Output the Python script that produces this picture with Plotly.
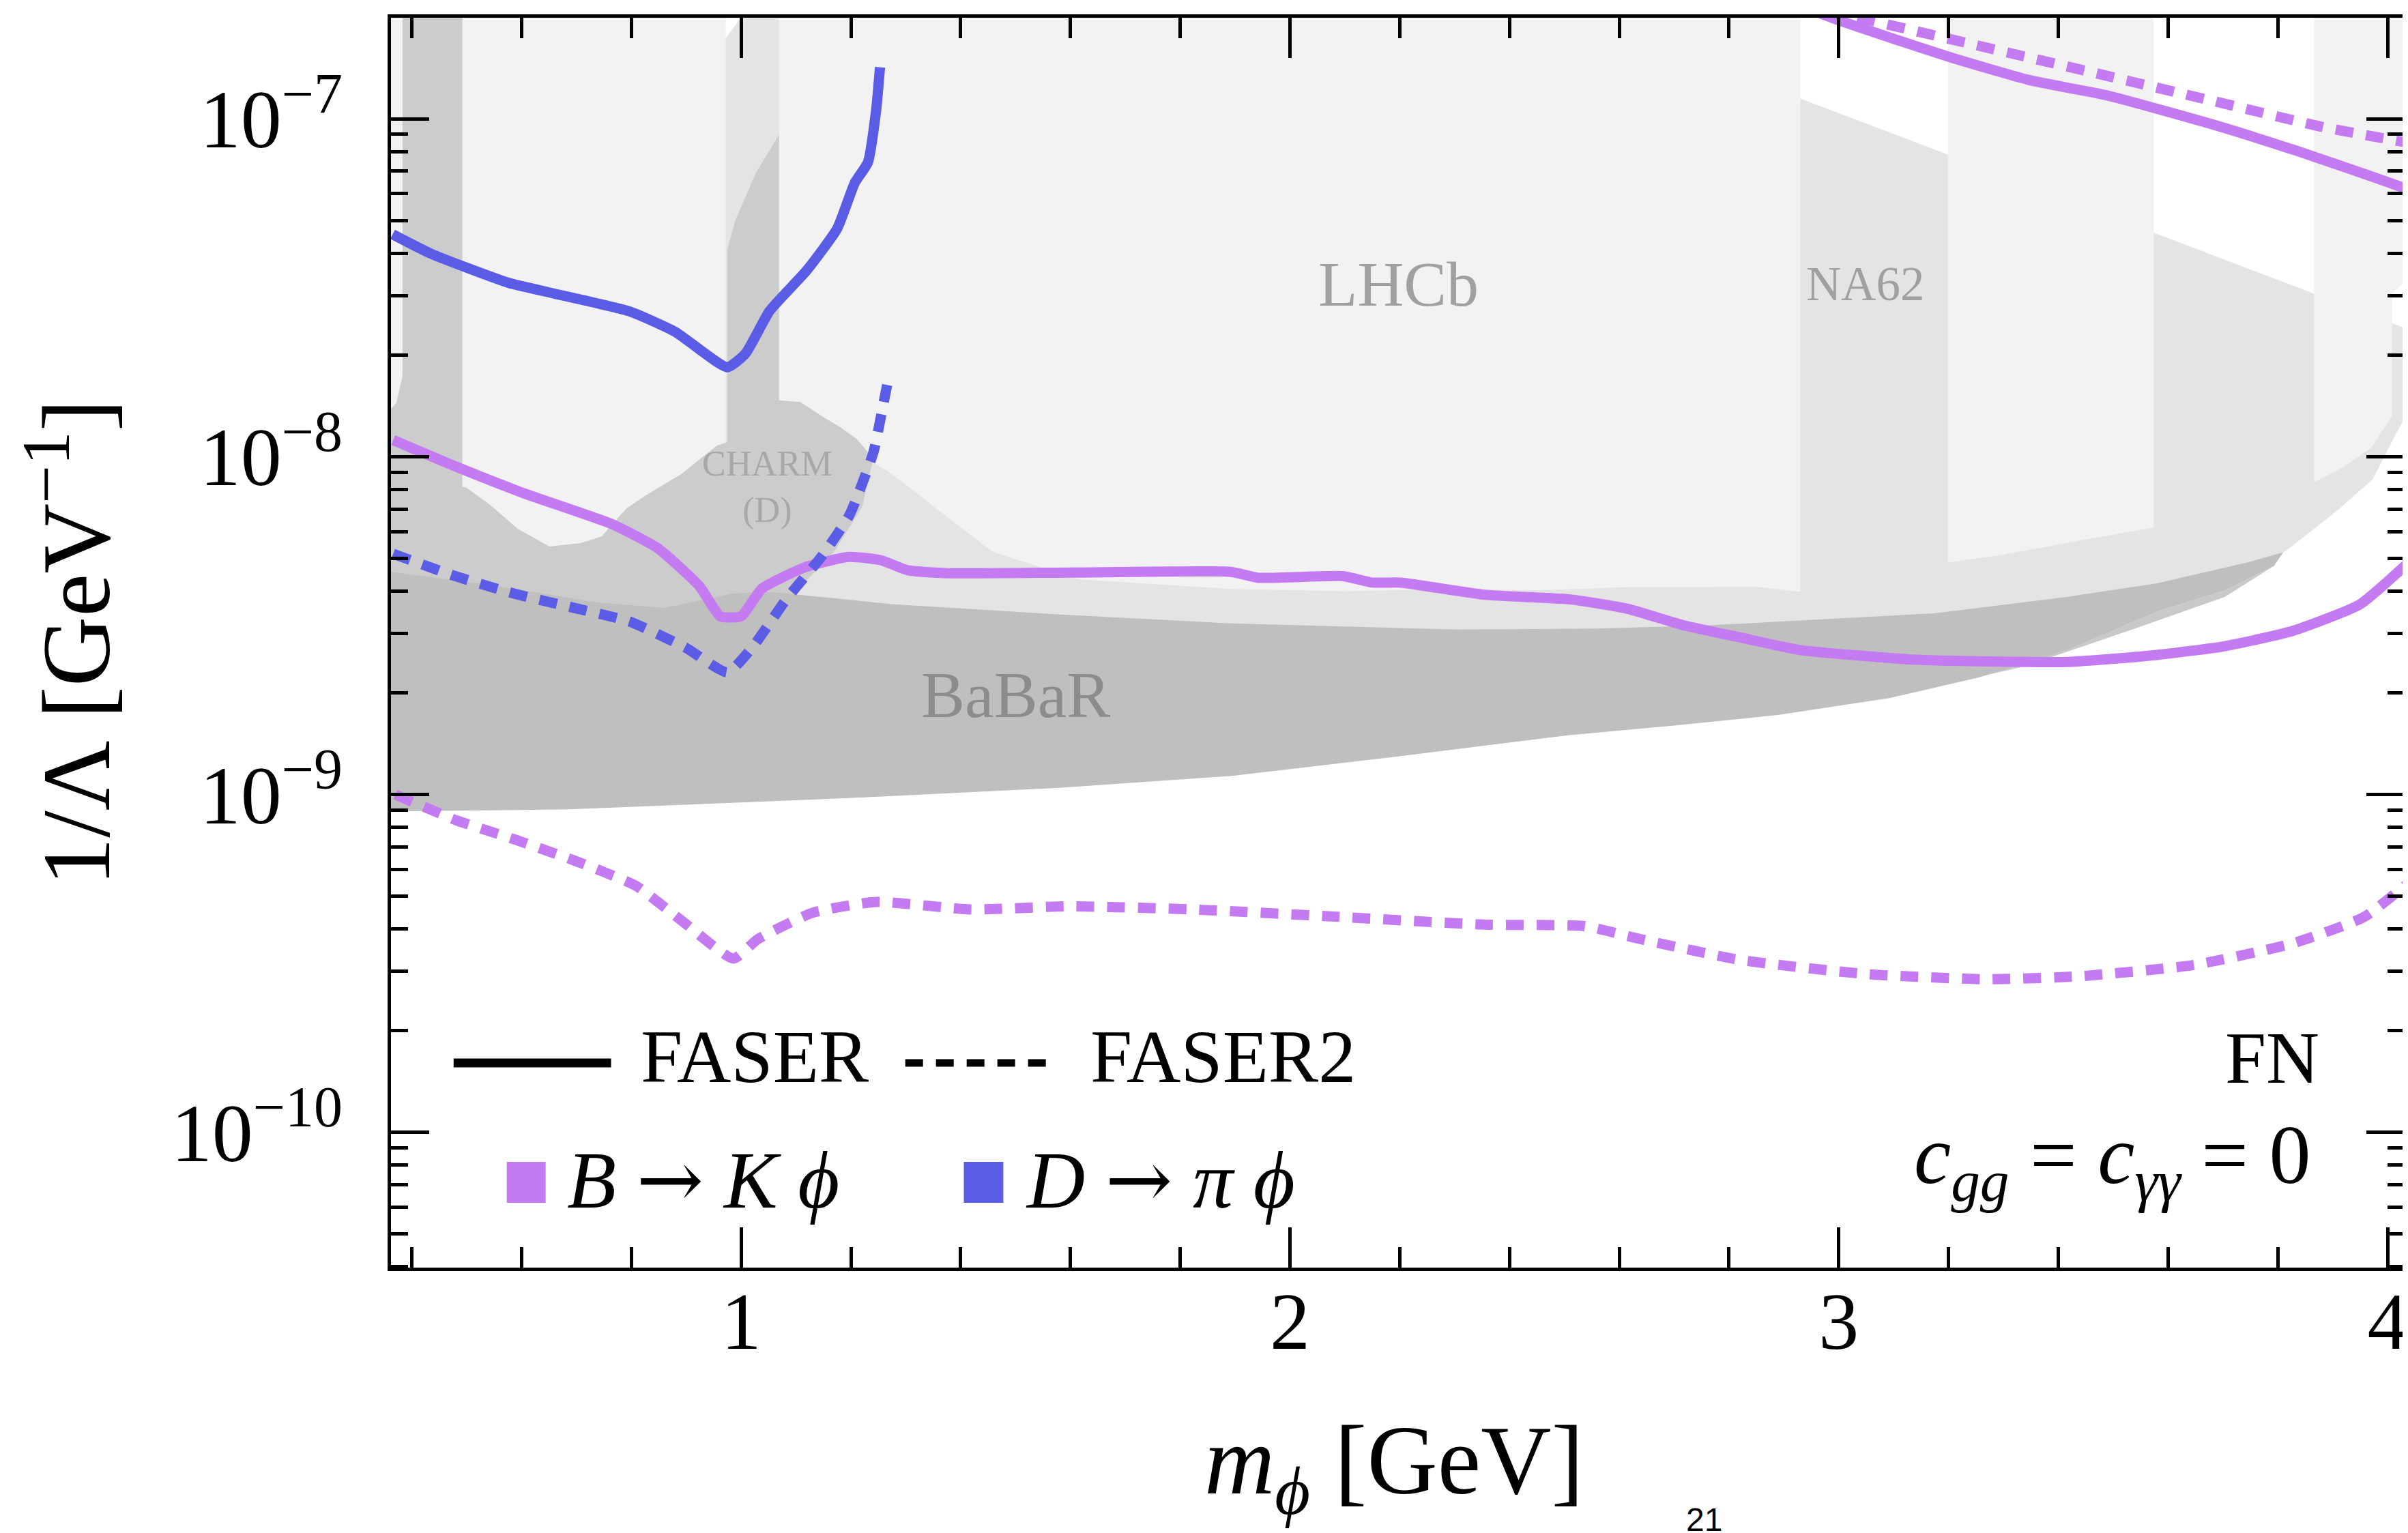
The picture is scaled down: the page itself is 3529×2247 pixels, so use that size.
import plotly.graph_objects as go

# ---------------- data ----------------
# m_phi [GeV] and 1/Lambda [GeV^-1]

# D -> pi phi, FASER (solid blue)
d_faser_m = [0.365, 0.436, 0.576, 0.659, 0.797, 0.880, 0.975, 1.008, 1.052, 1.119, 1.175, 1.207, 1.231, 1.246, 1.253]
d_faser_c = [4.55e-8, 3.98e-8, 3.27e-8, 3.04e-8, 2.69e-8, 2.34e-8, 1.84e-8, 2.02e-8, 2.70e-8, 3.55e-8, 4.73e-8, 6.46e-8, 7.43e-8, 1.06e-7, 1.42e-7]

# D -> pi phi, FASER2 (dashed blue)
d_faser2_m = [0.366, 0.479, 0.587, 0.695, 0.797, 0.899, 0.975, 1.020, 1.083, 1.146, 1.197, 1.241, 1.258, 1.266]
d_faser2_c = [5.16e-9, 4.43e-9, 3.93e-9, 3.57e-9, 3.25e-9, 2.72e-9, 2.30e-9, 2.72e-9, 3.80e-9, 5.05e-9, 6.70e-9, 1.03e-8, 1.40e-8, 1.63e-8]

# B -> K phi, FASER (solid purple), lower and upper branches
b_faser_low_m = [0.366, 0.480, 0.607, 0.765, 0.848, 0.924, 0.962, 1.000, 1.038, 1.114, 1.196, 1.254, 1.304, 1.376, 1.600,
                 1.892, 1.943, 2.097, 2.150, 2.202, 2.356, 2.511, 2.614, 2.717, 2.819, 2.928, 3.133, 3.418, 3.580,
                 3.704, 3.827, 3.949, 4.038]
b_faser_low_c = [1.12e-8, 9.35e-9, 7.76e-9, 6.31e-9, 5.36e-9, 4.14e-9, 3.37e-9, 3.37e-9, 4.07e-9, 4.69e-9, 5.05e-9, 4.94e-9,
                 4.61e-9, 4.52e-9, 4.54e-9, 4.56e-9, 4.38e-9, 4.43e-9, 4.24e-9, 4.24e-9, 3.90e-9, 3.78e-9, 3.55e-9,
                 3.17e-9, 2.92e-9, 2.68e-9, 2.51e-9, 2.47e-9, 2.59e-9, 2.75e-9, 3.05e-9, 3.65e-9, 4.86e-9]
b_faser_up_m = [2.95, 3.004, 3.199, 3.346, 3.492, 3.686, 3.833, 3.979, 4.038]
b_faser_up_c = [2.1e-7, 1.945e-7, 1.528e-7, 1.303e-7, 1.169e-7, 9.57e-8, 8.05e-8, 6.68e-8, 6.17e-8]

# B -> K phi, FASER2 (dashed purple), lower and upper branches
b_faser2_low_m = [0.370, 0.425, 0.481, 0.591, 0.697, 0.808, 0.896, 0.986, 1.030, 1.130, 1.246, 1.419, 1.596, 1.824,
                  2.063, 2.356, 2.536, 2.640, 2.820, 3.053, 3.273, 3.440, 3.647, 3.828, 3.957, 4.034]
b_faser2_low_c = [1.00e-9, 9.16e-10, 8.39e-10, 7.33e-10, 6.37e-10, 5.37e-10, 4.18e-10, 3.27e-10, 3.73e-10, 4.47e-10,
                  4.81e-10, 4.57e-10, 4.67e-10, 4.57e-10, 4.37e-10, 4.12e-10, 4.08e-10, 3.73e-10, 3.24e-10, 2.94e-10,
                  2.84e-10, 2.90e-10, 3.13e-10, 3.63e-10, 4.34e-10, 5.41e-10]
b_faser2_up_m = [2.98, 3.063, 3.247, 3.491, 3.686, 3.881, 4.038]
b_faser2_up_c = [2.1e-7, 1.945e-7, 1.656e-7, 1.337e-7, 1.125e-7, 9.46e-8, 8.49e-8]

# Excluded regions (polygon outlines)
na62_m = [0.95, 0.975, 1.00, 1.03, 2.70, 2.93, 3.20, 3.574, 3.866, 4.05, 4.05, 4.015, 3.973, 3.908, 3.814, 3.60, 3.00, 2.00, 1.10, 0.95]
na62_c = [1.585e-7, 1.758e-7, 1.995e-7, 2.51e-7, 2.51e-7, 1.148e-7, 7.82e-8, 4.60e-8, 3.04e-8, 2.34e-8, 1.48e-8, 1.167e-8,
          8.57e-9, 6.92e-9, 5.25e-9, 3.80e-9, 2.51e-9, 2.24e-9, 2.51e-9, 2.51e-9]

lhcb1_m = [0.355, 0.972, 0.972, 0.355]
lhcb1_c = [2.51e-7, 2.51e-7, 5.0e-9, 5.0e-9]
lhcb2_m = [1.069, 2.93, 2.93, 2.85, 2.75, 2.614, 2.45, 2.304, 2.10, 1.892, 1.75, 1.613, 1.51, 1.457, 1.273, 1.241, 1.069]
lhcb2_c = [2.51e-7, 2.51e-7, 3.98e-9, 4.12e-9, 4.11e-9, 4.11e-9, 4.02e-9, 4.06e-9, 4.00e-9, 4.06e-9, 4.20e-9, 4.34e-9,
           4.91e-9, 5.24e-9, 8.93e-9, 9.6e-9, 1.26e-8]
lhcb3_m = [3.199, 3.574, 3.574, 3.45, 3.30, 3.199]
lhcb3_c = [2.51e-7, 2.51e-7, 6.17e-9, 5.69e-9, 5.13e-9, 4.86e-9]
lhcb4_m = [3.866, 4.05, 4.05, 4.008, 4.008, 3.97, 3.92, 3.866]
lhcb4_c = [2.51e-7, 2.51e-7, 3.55e-8, 3.02e-8, 1.318e-8, 1.06e-8, 9.33e-9, 8.38e-9]

charm_m = [0.383, 0.492, 0.492, 0.499, 0.543, 0.594, 0.651, 0.708, 0.746, 0.791, 0.829, 0.892, 0.956, 0.975, 0.975,
           0.989, 1.027, 1.069, 1.069, 1.108, 1.152, 1.179, 1.210, 1.241, 1.220, 1.170, 1.100, 1.100, 0.350, 0.350,
           0.372, 0.383]
charm_c = [2.51e-7, 2.51e-7, 8.13e-9, 8.11e-9, 7.19e-9, 6.10e-9, 5.42e-9, 5.55e-9, 5.81e-9, 7.03e-9, 7.73e-9, 8.91e-9,
           1.079e-8, 1.104e-8, 4.11e-8, 4.98e-8, 6.92e-8, 8.97e-8, 1.469e-8, 1.452e-8, 1.303e-8, 1.227e-8, 1.130e-8,
           9.89e-9, 7.08e-9, 5.25e-9, 3.98e-9, 2.51e-9, 2.51e-9, 1.318e-8, 1.445e-8, 1.738e-8]

babar_m = [0.350, 0.543, 0.734, 0.860, 0.987, 1.050, 1.178, 1.273, 1.582, 1.892, 2.304, 2.562, 2.766, 3.174, 3.418,
           3.580, 3.744, 3.810, 3.793, 3.704, 3.580, 3.418, 3.255, 3.092, 2.889, 2.700, 2.510, 2.202, 1.892, 1.580,
           1.270, 1.130, 0.687, 0.350]
babar_c = [4.59e-9, 4.17e-9, 3.71e-9, 3.57e-9, 3.94e-9, 3.98e-9, 3.80e-9, 3.66e-9, 3.41e-9, 3.21e-9, 3.08e-9, 3.10e-9,
           3.17e-9, 3.44e-9, 3.85e-9, 4.22e-9, 4.86e-9, 5.21e-9, 4.75e-9, 4.02e-9, 3.48e-9, 2.68e-9, 2.22e-9, 1.93e-9,
           1.72e-9, 1.60e-9, 1.50e-9, 1.30e-9, 1.135e-9, 1.047e-9, 9.89e-10, 9.66e-10, 9.04e-10, 8.91e-10]

edge_m = [3.25, 3.418, 3.580, 3.704, 3.793, 3.704, 3.540, 3.336, 3.25]
edge_c = [2.22e-9, 2.68e-9, 3.48e-9, 4.02e-9, 4.75e-9, 3.85e-9, 3.10e-9, 2.39e-9, 2.22e-9]

x_ticks = [1, 2, 3, 4]
x_minor = [0.4, 0.6, 0.8, 1.2, 1.4, 1.6, 1.8, 2.2, 2.4, 2.6, 2.8, 3.2, 3.4, 3.6, 3.8]
y_ticks = [1e-10, 1e-9, 1e-8, 1e-7]
y_ticktext = ["10<sup>−10</sup>", "10<sup>−9</sup>", "10<sup>−8</sup>", "10<sup>−7</sup>"]
y_minor = [k * d for d in (1e-11, 1e-10, 1e-9, 1e-8, 1e-7) for k in range(2, 10)]

PURPLE = "#c47af0"
BLUE = "#5b5ce6"
SERIF = "Liberation Serif"
ARROW = '<span style="font-family:DejaVu Serif">→</span>'

# ---------------- figure ----------------
fig = go.Figure()


def region(m, c, color):
    fig.add_trace(go.Scatter(x=m + [m[0]], y=c + [c[0]], mode="lines", fill="toself",
                             fillcolor=color, line=dict(width=0, color=color),
                             hoverinfo="skip", showlegend=False))


region(na62_m, na62_c, "#e4e4e4")
region(lhcb1_m, lhcb1_c, "#f2f2f2")
region(lhcb2_m, lhcb2_c, "#f2f2f2")
region(lhcb3_m, lhcb3_c, "#f2f2f2")
region(lhcb4_m, lhcb4_c, "#f2f2f2")
region(charm_m, charm_c, "#cccccc")
region(edge_m, edge_c, "#c9c9c9")
region(babar_m, babar_c, "#bfbfbf")


def curve(m, c, color, dash):
    fig.add_trace(go.Scatter(x=m, y=c, mode="lines",
                             line=dict(color=color, width=15, dash=dash, shape="spline", smoothing=0.5),
                             hoverinfo="skip", showlegend=False))


DASH = "26px,19px"
curve(b_faser_low_m, b_faser_low_c, PURPLE, "solid")
curve(b_faser_up_m, b_faser_up_c, PURPLE, "solid")
curve(b_faser2_low_m, b_faser2_low_c, PURPLE, DASH)
curve(b_faser2_up_m, b_faser2_up_c, PURPLE, DASH)
curve(d_faser_m, d_faser_c, BLUE, "solid")
curve(d_faser2_m, d_faser2_c, BLUE, DASH)

W, H = 3529, 2247
fig.update_layout(
    width=W, height=H,
    margin=dict(l=565, r=8, t=18, b=397, pad=0),
    paper_bgcolor="white", plot_bgcolor="white",
    font=dict(family=SERIF, color="black"),
    showlegend=False,
)
fig.update_xaxes(
    range=[0.362, 4.031], tickmode="array", tickvals=x_ticks, ticktext=[str(v) for v in x_ticks],
    ticks="inside", ticklen=59, tickwidth=4.5, tickcolor="black", ticklabelstandoff=-28,
    showline=True, linewidth=5, linecolor="black", mirror="ticks",
    showgrid=False, zeroline=False, tickfont=dict(family=SERIF, size=118),
    minor=dict(tickmode="array", tickvals=x_minor, ticks="inside", ticklen=30, tickwidth=4.5,
               tickcolor="black", showgrid=False),
)
fig.update_yaxes(
    type="log", range=[-10.40, -6.701], tickmode="array", tickvals=y_ticks, ticktext=y_ticktext,
    ticks="inside", ticklen=56, tickwidth=4.5, tickcolor="black", ticklabelstandoff=42,
    showline=True, linewidth=5, linecolor="black", mirror="ticks",
    showgrid=False, zeroline=False, tickfont=dict(family=SERIF, size=120),
    minor=dict(tickmode="array", tickvals=y_minor, ticks="inside", ticklen=25, tickwidth=4.5,
               tickcolor="black", showgrid=False),
)

ann = []
# region labels (data coordinates; y in log10 units for the log axis)
ann.append(dict(x=2.198, y=-7.488, xref="x", yref="y", text="LHCb", showarrow=False,
                font=dict(family=SERIF, size=94, color="#a0a0a0")))
ann.append(dict(x=3.049, y=-7.488, xref="x", yref="y", text="NA62", showarrow=False,
                font=dict(family=SERIF, size=71, color="#a0a0a0")))
ann.append(dict(x=1.048, y=-8.09, xref="x", yref="y", text="CHARM<br>(D)", showarrow=False,
                font=dict(family=SERIF, size=52, color="#a8a8a8")))
ann.append(dict(x=1.50, y=-8.704, xref="x", yref="y", text="BaBaR", showarrow=False,
                font=dict(family=SERIF, size=96, color="#8c8c8c")))

# legend texts (paper coordinates)
ann.append(dict(x=0.1235, y=0.1687, xref="paper", yref="paper", xanchor="left", yanchor="middle",
                text="FASER", showarrow=False, font=dict(family=SERIF, size=110)))
ann.append(dict(x=0.3468, y=0.1687, xref="paper", yref="paper", xanchor="left", yanchor="middle",
                text="FASER2", showarrow=False, font=dict(family=SERIF, size=110)))
ann.append(dict(x=0.9584, y=0.1676, xref="paper", yref="paper", xanchor="right", yanchor="middle",
                text="FN", showarrow=False, font=dict(family=SERIF, size=108)))
ann.append(dict(x=0.0866, y=0.0704, xref="paper", yref="paper", xanchor="left", yanchor="middle",
                text="<i>B</i> " + ARROW + " <i>K</i> <i>ϕ</i>", showarrow=False, font=dict(family=SERIF, size=118)))
ann.append(dict(x=0.3146, y=0.0704, xref="paper", yref="paper", xanchor="left", yanchor="middle",
                text="<i>D</i> " + ARROW + " <i>π</i> <i>ϕ</i>", showarrow=False, font=dict(family=SERIF, size=118)))
ann.append(dict(x=0.9543, y=0.0852, xref="paper", yref="paper", xanchor="right", yanchor="middle",
                text="<i>c</i><sub><i>gg</i></sub> = <i>c</i><sub><i>γγ</i></sub> = 0", showarrow=False,
                font=dict(family=SERIF, size=122)))

# axis titles
ann.append(dict(x=0.498, y=-0.1600, xref="paper", yref="paper", xanchor="center", yanchor="middle",
                text="<i>m</i><sub><i>ϕ</i></sub> [GeV]", showarrow=False, font=dict(family=SERIF, size=143)))
ann.append(dict(x=-0.1597, y=0.5, xref="paper", yref="paper", xanchor="center", yanchor="middle",
                text="1/Λ [GeV<sup>−1</sup>]", textangle=-90, showarrow=False, font=dict(family=SERIF, size=142)))
# page number
ann.append(dict(x=0.6424, y=-0.186, xref="paper", yref="paper", xanchor="left", yanchor="top",
                text="21", showarrow=False, font=dict(family="Liberation Sans", size=48)))
fig.update_layout(annotations=ann)

shapes = [
    dict(type="line", xref="paper", yref="paper", x0=0.0311, x1=0.1093, y0=0.1638, y1=0.1638,
         line=dict(color="black", width=13)),
    dict(type="line", xref="paper", yref="paper", x0=0.2554, x1=0.3275, y0=0.1638, y1=0.1638,
         line=dict(color="black", width=11, dash=DASH)),
    dict(type="rect", xref="paper", yref="paper", x0=0.0575, x1=0.0768, y0=0.0518, y1=0.0846,
         line=dict(width=0), fillcolor=PURPLE),
    dict(type="rect", xref="paper", yref="paper", x0=0.2845, x1=0.3041, y0=0.0518, y1=0.0846,
         line=dict(width=0), fillcolor=BLUE),
]
fig.update_layout(shapes=shapes)

fig.write_html("out.html")
